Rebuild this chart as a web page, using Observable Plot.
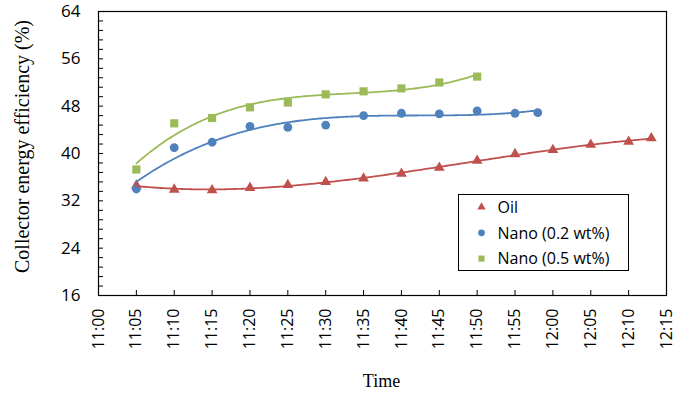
<!DOCTYPE html>
<html>
<head>
<meta charset="utf-8">
<script src="https://cdn.jsdelivr.net/npm/d3@7"></script>
<script src="https://cdn.jsdelivr.net/npm/@observablehq/plot@0.6"></script>
<style>
  html, body { margin: 0; padding: 0; background: #fff; }
  #chart { width: 688px; height: 401px; }
</style>
</head>
<body>
<div id="chart"></div>
<script>
// Measurement times (clock time) and collector efficiency (%) per fluid
const oilTimes = ["11:05","11:10","11:15","11:20","11:25","11:30","11:35","11:40","11:45","11:50","11:55","12:00","12:05","12:10","12:13"];
const oilEff   = [34.6, 33.9, 33.8, 34.2, 34.7, 35.2, 35.8, 36.6, 37.6, 38.8, 39.9, 40.6, 41.5, 42.0, 42.6];

const nano02Times = ["11:05","11:10","11:15","11:20","11:25","11:30","11:35","11:40","11:45","11:50","11:55","11:58"];
const nano02Eff   = [34.0, 41.0, 41.9, 44.6, 44.4, 44.8, 46.4, 46.8, 46.7, 47.2, 46.8, 46.9];

const nano05Times = ["11:05","11:10","11:15","11:20","11:25","11:30","11:35","11:40","11:45","11:50"];
const nano05Eff   = [37.3, 45.1, 46.0, 47.8, 48.6, 50.0, 50.5, 51.0, 52.0, 53.0];

const seriesNames  = ["Oil", "Nano (0.2 wt%)", "Nano (0.5 wt%)"];
const seriesColors = ["#C0504D", "#4F81BD", "#9BBB59"];
const seriesSymbols = ["triangle", "circle", "square"];

const xTickLabels = ["11:00","11:05","11:10","11:15","11:20","11:25","11:30","11:35","11:40","11:45","11:50","11:55","12:00","12:05","12:10","12:15"];
const yTickLabels = [16, 24, 32, 40, 48, 56, 64];
const yMinorStep = 1.6;

// clock string -> minutes after 11:00
const toMin = s => { const [h, m] = s.split(":").map(Number); return (h - 11) * 60 + m; };
const fmtMin = v => { const h = 11 + Math.floor(v / 60), m = v % 60; return `${h}:${String(m).padStart(2, "0")}`; };

const series = [
  {name: seriesNames[0], times: oilTimes, eff: oilEff},
  {name: seriesNames[1], times: nano02Times, eff: nano02Eff},
  {name: seriesNames[2], times: nano05Times, eff: nano05Eff}
];
const points = series.flatMap(s => s.times.map((t, i) => ({series: s.name, x: toMin(t), y: s.eff[i]})));

// least-squares polynomial trendline
function polyFit(xs, ys, deg) {
  const n = deg + 1, c = 30, sc = 30;
  const A = Array.from({length: n}, () => new Array(n + 1).fill(0));
  xs.forEach((x, k) => {
    const t = (x - c) / sc;
    const p = d3.range(n).map(i => Math.pow(t, i));
    for (let i = 0; i < n; i++) {
      for (let j = 0; j < n; j++) A[i][j] += p[i] * p[j];
      A[i][n] += p[i] * ys[k];
    }
  });
  for (let i = 0; i < n; i++) {
    let piv = i;
    for (let r = i + 1; r < n; r++) if (Math.abs(A[r][i]) > Math.abs(A[piv][i])) piv = r;
    [A[i], A[piv]] = [A[piv], A[i]];
    for (let r = 0; r < n; r++) {
      if (r === i) continue;
      const f = A[r][i] / A[i][i];
      for (let col = i; col <= n; col++) A[r][col] -= f * A[i][col];
    }
  }
  const coef = A.map((row, i) => row[n] / row[i]);
  return x => { const t = (x - c) / sc; return coef.reduce((s, a, i) => s + a * Math.pow(t, i), 0); };
}

const trend = series.flatMap(s => {
  const xs = s.times.map(toMin);
  const f = polyFit(xs, s.eff, 3);
  const x0 = xs[0], x1 = xs[xs.length - 1];
  return d3.range(x0, x1 + 1e-9, 0.25).concat([x1]).map(x => ({series: s.name, x, y: f(x)}));
});

const xTicks = xTickLabels.map(toMin);
const yMinor = d3.range(yTickLabels[0], yTickLabels[yTickLabels.length - 1] + 1e-6, yMinorStep);

const colorScale = {domain: seriesNames, range: seriesColors};
const symbolScale = {domain: seriesNames, range: seriesSymbols};

const tickFont = "'Open Sans', 'Noto Sans', sans-serif";
const titleFont = "'Liberation Serif', 'DejaVu Serif', serif";

const chart = Plot.plot({
  width: 688,
  height: 401,
  marginLeft: 98,
  marginRight: 22,
  marginTop: 11,
  marginBottom: 106,
  style: {fontFamily: tickFont, fontSize: "16px", color: "#000", background: "#fff", overflow: "visible"},
  x: {domain: [0, 75]},
  y: {domain: [16, 64]},
  color: colorScale,
  symbol: symbolScale,
  marks: [
    // inward tick marks
    Plot.axisY(yMinor, {anchor: "left", tickSize: 5, dx: 5, text: null, label: null, stroke: "#000"}),
    Plot.axisX(xTicks, {anchor: "bottom", tickSize: 5, dy: -5, text: null, label: null, stroke: "#000"}),
    // tick labels
    Plot.axisY(yTickLabels, {anchor: "left", tickSize: 0, tickPadding: 18, label: null, fontSize: 17, fontFamily: tickFont}),
    Plot.axisX(xTicks, {anchor: "bottom", tickSize: 0, tickPadding: 13, tickRotate: -90, label: null, fontSize: 16, fontFamily: tickFont, tickFormat: fmtMin}),
    // markers
    Plot.dot(points.filter(d => d.series === seriesNames[0]), {x: "x", y: "y", fill: "series", symbol: "series", r: 4}),
    Plot.dot(points.filter(d => d.series === seriesNames[1]), {x: "x", y: "y", fill: "series", symbol: "series", r: 4.4}),
    Plot.dot(points.filter(d => d.series === seriesNames[2]), {x: "x", y: "y", fill: "series", symbol: "series", r: 4.6}),
    // polynomial trendlines
    Plot.line(trend, {x: "x", y: "y", z: "series", stroke: "series", strokeWidth: 1.8, curve: "linear"}),
    Plot.frame({stroke: "#000", strokeWidth: 1.2}),
    // axis titles
    Plot.text(["Collector energy efficiency (%)"], {frameAnchor: "left", dx: -76, dy: -7, rotate: -90, textAnchor: "middle", text: d => d, fontFamily: titleFont, fontSize: 20, fill: "#000"}),
    Plot.text(["Time"], {frameAnchor: "bottom", dx: -1, dy: 91, textAnchor: "middle", text: d => d, fontFamily: titleFont, fontSize: 18, fill: "#000"})
  ]
});

// in-plot legend box
const svg = d3.select(chart);
const lg = svg.append("g").attr("transform", "translate(458.5,194.5)");
lg.append("rect").attr("width", 170).attr("height", 76).attr("fill", "#fff").attr("stroke", "#000").attr("stroke-width", 1);
const symTypes = [d3.symbolTriangle, d3.symbolCircle, d3.symbolSquare];
const symSizes = [30, 36, 38];
seriesNames.forEach((name, i) => {
  const cy = 12.5 + i * 25.8;
  lg.append("path")
    .attr("d", d3.symbol(symTypes[i], symSizes[i])())
    .attr("transform", `translate(23,${cy})`)
    .attr("fill", seriesColors[i]);
  lg.append("text")
    .attr("x", 39).attr("y", cy).attr("dy", "0.36em")
    .attr("text-anchor", "start")
    .attr("font-family", tickFont).attr("font-size", 16).attr("fill", "#000")
    .text(name);
});

document.getElementById("chart").appendChild(chart);
</script>
</body>
</html>
